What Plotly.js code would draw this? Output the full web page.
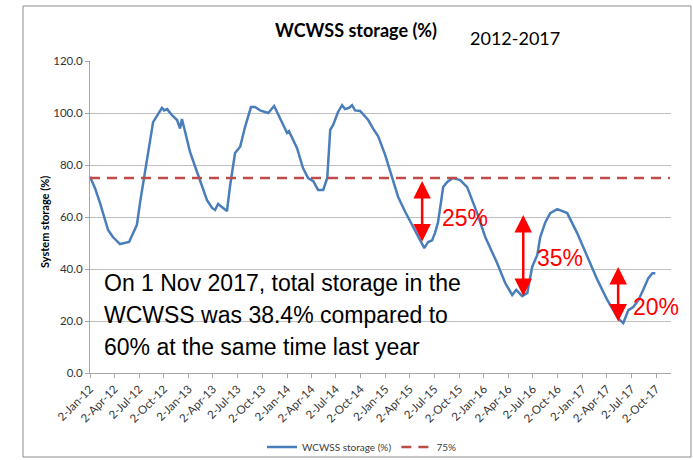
<!DOCTYPE html>
<html>
<head>
<meta charset="utf-8">
<script src="https://cdn.plot.ly/plotly-3.0.1.min.js"></script>
<style>html,body{margin:0;padding:0;background:#fff;}#chart{width:693px;height:460px;}</style>
</head>
<body>
<div id="chart"></div>
<script>
// ---- data ----
const storageDates = [
"2012-01-02","2012-01-21","2012-02-08","2012-02-19","2012-03-09","2012-03-27","2012-04-22","2012-05-26","2012-06-06","2012-06-24","2012-07-06","2012-07-24","2012-08-12","2012-08-23","2012-09-07","2012-09-25","2012-10-03","2012-10-14","2012-11-01","2012-11-20","2012-12-01","2012-12-08","2012-12-20",
"2013-01-07","2013-02-02","2013-02-13","2013-03-04","2013-03-11","2013-03-30","2013-04-10","2013-04-21","2013-05-24","2013-06-05","2013-06-23","2013-07-12","2013-07-30","2013-08-21","2013-09-05","2013-09-24","2013-10-24","2013-11-15","2013-12-07",
"2014-01-02","2014-01-09","2014-02-08","2014-03-02","2014-03-21","2014-04-09","2014-04-27","2014-05-16","2014-05-31","2014-06-11","2014-06-22","2014-07-10","2014-07-25","2014-08-05","2014-08-20","2014-08-31","2014-09-11","2014-09-30","2014-10-30","2014-11-17","2014-12-06",
"2015-01-01","2015-01-27","2015-02-18","2015-03-16","2015-04-11","2015-05-03","2015-05-26","2015-06-09","2015-06-24","2015-07-05","2015-07-16","2015-08-04","2015-08-19","2015-09-10","2015-10-06","2015-11-01","2015-12-08",
"2016-01-07","2016-02-20","2016-03-21","2016-04-16","2016-05-01","2016-05-23","2016-06-11","2016-06-29","2016-07-18","2016-07-29","2016-08-17","2016-09-04","2016-09-30","2016-11-06","2016-12-13",
"2017-01-19","2017-02-26","2017-04-04","2017-04-26","2017-05-14","2017-06-02","2017-06-21","2017-07-09","2017-07-28","2017-08-15","2017-09-03","2017-09-18","2017-09-29"];
const storageValues = [
75.5,71,65.4,61.5,55,52.3,49.6,50.4,53,57,65.8,77.3,88.8,96.5,99,102,101,101.5,99.2,97.3,94,97.7,92.7,
85,77.3,74.2,68.5,66.5,63.5,62.7,65,62.3,72.3,84.6,87,94.6,102.3,102.3,101,100,102.7,98,
92.3,93,86.5,78.8,75,73.8,70.4,70.4,75,93.5,95.4,100.4,103,101.5,102,103,101,100.8,97.3,94,91,
83.8,75.4,67.7,62,57,52.3,48,50.4,51,54,58,71.5,73.5,75,74.2,71.5,61.5,
52.3,42.3,34.6,30,32,29.6,30.8,40.8,45.4,52.3,58,61.5,63,61.5,53.8,
44.6,35.8,28,24.2,21,19.2,24.2,25.4,28,32,36.5,38.4,38.4];
const thresholdDates = ["2012-01-02","2017-11-22"];
const thresholdValues = [75,75];
const tickDates = ["2012-01-02","2012-04-02","2012-07-02","2012-10-02","2013-01-02","2013-04-02","2013-07-02","2013-10-02","2014-01-02","2014-04-02","2014-07-02","2014-10-02","2015-01-02","2015-04-02","2015-07-02","2015-10-02","2016-01-02","2016-04-02","2016-07-02","2016-10-02","2017-01-02","2017-04-02","2017-07-02","2017-10-02"];
const tickLabels = ["2-Jan-12","2-Apr-12","2-Jul-12","2-Oct-12","2-Jan-13","2-Apr-13","2-Jul-13","2-Oct-13","2-Jan-14","2-Apr-14","2-Jul-14","2-Oct-14","2-Jan-15","2-Apr-15","2-Jul-15","2-Oct-15","2-Jan-16","2-Apr-16","2-Jul-16","2-Oct-16","2-Jan-17","2-Apr-17","2-Jul-17","2-Oct-17"];
// drop arrows: date, top value, bottom value, label
const dropDates = ["2015-05-18","2016-05-27","2017-05-14"];
const dropTop = [73.8, 60.8, 40.8];
const dropBottom = [50, 29, 19.2];
const dropLabels = ["25%","35%","20%"];
const noteLines = ["On 1 Nov 2017, total storage in the","WCWSS was 38.4% compared to","60% at the same time last year"];

// ---- layout helpers ----
const L = 90, R = 671, T = 61, B = 373, W = 693, H = 460;
const px = x => (x - L) / (R - L);
const py = y => (B - y) / (B - T);

const calibri = 'Lato, "Open Sans", sans-serif';
const arial = '"Liberation Sans", Arial, sans-serif';

const traces = [
  {x: storageDates, y: storageValues, type: 'scatter', mode: 'lines', name: 'WCWSS storage (%)',
   line: {color: '#4a7ebb', width: 2.5}},
  {x: thresholdDates, y: thresholdValues, type: 'scatter', mode: 'lines', name: '75%',
   line: {color: '#be4b48', width: 2.5, dash: '10px,7px'}}
];

const annotations = [];
dropDates.forEach((d, i) => {
  annotations.push({x: d, y: dropTop[i], ax: d, ay: dropBottom[i], xref: 'x', yref: 'y', axref: 'x', ayref: 'y',
    text: '', showarrow: true, arrowside: 'end+start', arrowhead: 2, startarrowhead: 2,
    arrowsize: 1.4, startarrowsize: 1.4, arrowwidth: 2.5, arrowcolor: '#ff0000', standoff: 0, startstandoff: 0});
});
const labelPos = [[465, 218], [560, 258], [656, 307]];
dropLabels.forEach((t, i) => {
  annotations.push({x: px(labelPos[i][0]), y: py(labelPos[i][1]), xref: 'paper', yref: 'paper', text: t,
    showarrow: false, xanchor: 'center', yanchor: 'middle', font: {family: arial, size: 23, color: '#ff0000'}});
});
const noteY = [283, 315, 347];
noteLines.forEach((t, i) => {
  annotations.push({x: px(102), y: py(noteY[i]), xref: 'paper', yref: 'paper', text: t, showarrow: false,
    xanchor: 'left', yanchor: 'middle', font: {family: arial, size: 23, color: '#000000'}});
});
annotations.push({x: px(515), y: py(38), xref: 'paper', yref: 'paper', text: '2012-2017', showarrow: false,
  xanchor: 'center', yanchor: 'middle', font: {family: calibri, size: 18, color: '#000000'}});
annotations.push({x: px(45), y: py(222), xref: 'paper', yref: 'paper', text: '<b>System storage (%)</b>', showarrow: false,
  textangle: -90, xanchor: 'center', yanchor: 'middle', font: {family: calibri, size: 11, color: '#000000'}});
annotations.push({x: 1 / W, y: 1 - 15 / H, xref: 'container', yref: 'container', text: '%', showarrow: false,
  xanchor: 'left', yanchor: 'middle', font: {family: calibri, size: 11, color: '#333333'}});
annotations.push({x: 1 / W, y: 1 - 49 / H, xref: 'container', yref: 'container', text: '%', showarrow: false,
  xanchor: 'left', yanchor: 'middle', font: {family: calibri, size: 11, color: '#333333'}});

const layout = {
  width: W, height: H,
  margin: {l: L, r: W - R, t: T, b: H - B, pad: 0},
  paper_bgcolor: '#ffffff', plot_bgcolor: '#ffffff',
  title: {text: '<b>WCWSS storage (%)</b>', x: 356 / W, xanchor: 'center', y: 1 - 31 / H, yanchor: 'middle',
    font: {family: calibri, size: 18, color: '#000000'}},
  xaxis: {type: 'date', range: ['2012-01-02', '2017-11-26'], tickvals: tickDates, ticktext: tickLabels,
    tickangle: -45, showgrid: false, showline: true, linecolor: '#a6a6a6', linewidth: 1,
    ticks: 'outside', ticklen: 4, tickcolor: '#a6a6a6', automargin: false, zeroline: false,
    tickfont: {family: calibri, size: 11.5, color: '#333333'}},
  yaxis: {range: [0, 120], tickvals: [0, 20, 40, 60, 80, 100, 120], tickformat: '.1f',
    showgrid: true, gridcolor: '#bfbfbf', gridwidth: 1, showline: true, linecolor: '#a6a6a6', linewidth: 1,
    ticks: 'outside', ticklen: 4, tickcolor: '#a6a6a6', automargin: false, zeroline: false,
    tickfont: {family: calibri, size: 11.5, color: '#333333'}},
  showlegend: true,
  legend: {orientation: 'h', xref: 'container', yref: 'container', x: 362 / W, xanchor: 'center',
    y: 1 - 447 / H, yanchor: 'middle',
    font: {family: calibri, size: 10, color: '#404040'}, bgcolor: 'rgba(0,0,0,0)'},
  annotations: annotations,
  shapes: [{type: 'rect', xref: 'paper', yref: 'paper', x0: px(23), x1: px(691), y0: py(457), y1: py(6),
    line: {color: '#8c8c8c', width: 1}, fillcolor: 'rgba(0,0,0,0)', layer: 'below'}]
};

Plotly.newPlot('chart', traces, layout, {displayModeBar: false, staticPlot: true});
</script>
</body>
</html>
